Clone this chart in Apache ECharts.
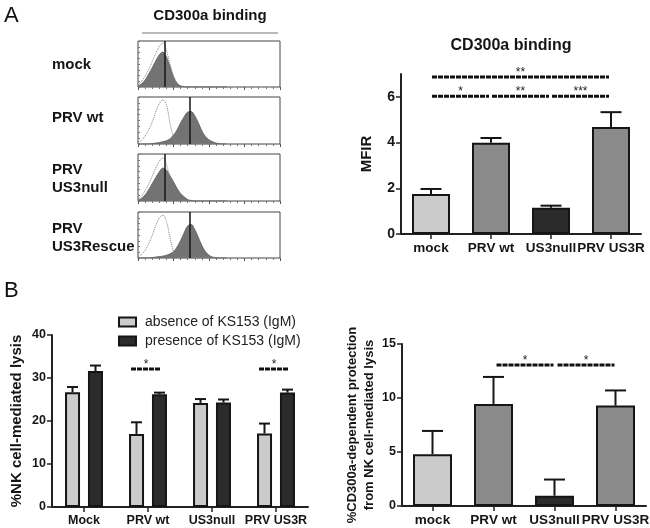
<!DOCTYPE html>
<html><head><meta charset="utf-8">
<script src="https://cdn.jsdelivr.net/npm/echarts@6/dist/echarts.min.js"></script>
<style>html,body{margin:0;padding:0;background:#fff}#c{width:650px;height:528px}</style>
</head><body><div id="c"></div>
<script>
// ---------------- DATA ----------------
// Histogram panels (log10 fluorescence decade position, % of max count)
const histBins = [0,0.1,0.2,0.3,0.4,0.5,0.6,0.7,0.8,0.9,1.0,1.1,1.2,1.3,1.4,1.5,1.6,1.7,1.8,1.9,2.0,2.1,2.2,2.3,2.4,2.5];
const histLabels = [['mock'], ['PRV wt'], ['PRV', 'US3null'], ['PRV', 'US3Rescue']];
const mockFill = [2,7,15,28,42,57,70,76,66,45,22,8,2,1,0,0,0,0,0,0,0,0,0,0,0,0];
const mockIso  = [4,12,24,38,55,73,88,96,80,50,24,9,3,1,0,0,0,0,0,0,0,0,0,0,0,0];
const wtFill   = [0,0,0,0,1,2,3,5,7,11,19,30,45,58,68,69,60,45,28,16,9,5,2,1,0,0];
const wtIso    = [3,8,17,30,47,68,86,94,84,45,15,3,0,0,0,0,0,0,0,0,0,0,0,0,0,0];
const nullFill = [2,6,13,24,37,50,62,70,66,54,41,27,16,9,3,1,0,0,0,0,0,0,0,0,0,0];
const nullIso  = [4,11,22,36,53,70,85,92,78,50,25,10,3,1,0,0,0,0,0,0,0,0,0,0,0,0];
const resFill  = [0,0,0,0,1,2,3,4,6,9,14,24,38,55,70,73,62,45,27,14,6,2,1,0,0,0];
const resIso   = [3,8,17,31,49,70,87,93,80,45,15,3,0,0,0,0,0,0,0,0,0,0,0,0,0,0];
const gateLines = [0.76, 1.46, 0.76, 1.45];

// MFIR bar chart
const mfirCats = ['mock', 'PRV wt', 'US3null', 'PRV US3R'];
const mfir     = [1.75, 3.99, 1.15, 4.68];
const mfirErr  = [1.97, 4.20, 1.24, 5.33];
const mfirTicks = [0, 2, 4, 6];
const mfirSig = [[0, 3, 6.87, 2], [0, 1, 6.03, 1], [1, 2, 6.03, 2], [2, 3, 6.03, 3]];

// NK lysis grouped bars
const lysisCats = ['Mock', 'PRV wt', 'US3null', 'PRV US3R'];
const lysisNames = ['absence of KS153 (IgM)', 'presence of KS153 (IgM)'];
const lysisAbsent     = [26.7, 17.0, 24.2, 17.1];
const lysisAbsentErr  = [27.9, 19.7, 25.1, 19.4];
const lysisPresent    = [31.6, 26.2, 24.3, 26.6];
const lysisPresentErr = [32.9, 26.6, 25.0, 27.3];
const lysisTicks = [0, 10, 20, 30, 40];
const lysisSig = [[1, 1, 32.1, 1], [3, 3, 32.1, 1]];

// CD300a-dependent protection
const protCats = ['mock', 'PRV wt', 'US3null', 'PRV US3R'];
const protection    = [4.8, 9.45, 0.95, 9.3];
const protectionErr = [6.95, 11.95, 2.45, 10.7];
const protTicks = [0, 5, 10, 15];
const protSig = [[1, 2, 13.05, 1], [2, 3, 13.05, 1]];

// ---------------- STYLE ----------------
const FF = 'Liberation Sans, Arial, Helvetica, sans-serif';
const LIGHT = '#cbcbcb', MID = '#8a8a8a', DARK = '#2b2b2b', INK = '#151515';
const groupColors = [LIGHT, MID, DARK, MID];

const histGrids = [
  {left: 138, top: 41, width: 142, height: 46},
  {left: 138, top: 97, width: 142, height: 47},
  {left: 138, top: 154, width: 142, height: 47},
  {left: 138, top: 212, width: 142, height: 46}
];
const histLabelY = [[65], [118], [170, 188], [229, 247]];
const fills = [mockFill, wtFill, nullFill, resFill];
const isos = [mockIso, wtIso, nullIso, resIso];

const grids = histGrids.map(g => Object.assign({show: true, borderColor: '#444', borderWidth: 1, backgroundColor: 'transparent', outerBoundsMode: 'none'}, g));
grids.push({left: 401, top: 74, width: 240, height: 160, outerBoundsMode: 'none'});
grids.push({left: 52, top: 335, width: 256, height: 172, outerBoundsMode: 'none'});
grids.push({left: 402, top: 344, width: 244, height: 162, outerBoundsMode: 'none'});

const xAxes = [], yAxes = [], series = [];
histGrids.forEach((g, i) => {
  xAxes.push({gridIndex: i, type: 'value', min: 0, max: 4, interval: 1,
    axisLine: {show: false}, axisLabel: {show: false}, splitLine: {show: false},
    axisTick: {show: true, length: 3, lineStyle: {color: '#555'}},
    minorTick: {show: true, splitNumber: 5, length: 2, lineStyle: {color: '#777'}}});
  yAxes.push({gridIndex: i, type: 'value', min: 0, max: 100, interval: 12.5,
    axisLine: {show: false}, axisLabel: {show: false}, splitLine: {show: false},
    axisTick: {show: true, inside: true, length: 2, lineStyle: {color: '#777'}}});
  series.push({type: 'line', xAxisIndex: i, yAxisIndex: i, smooth: 0.35, symbol: 'none', silent: true,
    data: histBins.map((b, k) => [b, fills[i][k]]),
    lineStyle: {color: '#5e5e5e', width: 0.8},
    areaStyle: {color: '#737373', opacity: 1},
    markLine: {symbol: 'none', silent: true, label: {show: false},
      lineStyle: {color: INK, width: 1.5, type: 'solid'}, data: [{xAxis: gateLines[i]}]},
    z: 2});
  series.push({type: 'line', xAxisIndex: i, yAxisIndex: i, smooth: 0.35, symbol: 'none', silent: true,
    data: histBins.map((b, k) => [b, isos[i][k]]),
    lineStyle: {color: '#808080', width: 1, type: 'dotted'}, z: 3});
});

function barAxes(gi, cats, ticks, max, xFont, yFont, name, nameGap, nameFont, nameLH) {
  xAxes.push({gridIndex: gi, type: 'category', data: cats,
    axisLine: {show: true, lineStyle: {color: '#222', width: 2}},
    axisTick: {show: true, alignWithLabel: true, length: 5, lineStyle: {color: '#222', width: 1.5}},
    axisLabel: {interval: 0, color: INK, fontWeight: 'bold', fontSize: xFont, fontFamily: FF, margin: 7},
    splitLine: {show: false}});
  yAxes.push({gridIndex: gi, type: 'value', min: 0, max: max,
    axisLine: {show: true, lineStyle: {color: '#222', width: 2}},
    axisTick: {show: true, length: 5, customValues: ticks, lineStyle: {color: '#222', width: 1.5}},
    axisLabel: {customValues: ticks, color: INK, fontWeight: 'bold', fontSize: yFont, fontFamily: FF, margin: 6},
    splitLine: {show: false},
    name: name, nameLocation: 'middle', nameGap: nameGap, nameRotate: 90,
    nameTextStyle: {color: INK, fontWeight: 'bold', fontSize: nameFont, fontFamily: FF, lineHeight: nameLH, align: 'center'}});
}
barAxes(4, mfirCats, mfirTicks, 7, 13.5, 14, 'MFIR', 26, 15, 17);
barAxes(5, lysisCats, lysisTicks, 40, 12.5, 12.5, '%NK cell-mediated lysis', 27, 15, 17);
barAxes(6, protCats, protTicks, 15, 13.5, 12.5, '%CD300a-dependent protection\nfrom NK cell-mediated lysis', 22, 13, 17);

function errSeries(ai, vals, errs, offset, capW) {
  return {type: 'custom', xAxisIndex: ai, yAxisIndex: ai, silent: true, z: 4,
    data: vals.map((v, i) => [i, v, errs[i]]),
    encode: {x: 0, y: [1, 2]},
    renderItem: (params, api) => {
      const top = api.coord([api.value(0), api.value(2)]);
      const bot = api.coord([api.value(0), api.value(1)]);
      const x = top[0] + offset;
      return {type: 'group', children: [
        {type: 'line', shape: {x1: x, y1: bot[1], x2: x, y2: top[1]}, style: {stroke: INK, lineWidth: 2}},
        {type: 'line', shape: {x1: x - capW / 2, y1: top[1], x2: x + capW / 2, y2: top[1]}, style: {stroke: INK, lineWidth: 2}}
      ]};
    }};
}
function sigSeries(ai, rows, sOff, eOff) {
  return {type: 'custom', xAxisIndex: ai, yAxisIndex: ai, silent: true, z: 4,
    data: rows, encode: {x: [0, 1], y: 2},
    renderItem: (params, api) => {
      const p0 = api.coord([api.value(0), api.value(2)]);
      const p1 = api.coord([api.value(1), api.value(2)]);
      const x1 = p0[0] + sOff, x2 = p1[0] + eOff;
      return {type: 'group', children: [
        {type: 'line', shape: {x1: x1, y1: p0[1], x2: x2, y2: p0[1]},
          style: {stroke: '#111', lineWidth: 3, lineDash: [5, 1]}},
        {type: 'text', style: {text: '*'.repeat(api.value(3)), x: (x1 + x2) / 2, y: p0[1] + 2,
          align: 'center', verticalAlign: 'bottom', fontSize: 12, fontFamily: FF, fill: '#222'}}
      ]};
    }};
}

// MFIR
series.push({type: 'bar', xAxisIndex: 4, yAxisIndex: 4, barWidth: 38, z: 2,
  data: mfir.map((v, i) => ({value: v, itemStyle: {color: groupColors[i]}})),
  itemStyle: {borderColor: INK, borderWidth: 2}});
series.push(errSeries(4, mfir, mfirErr, 0, 21));
series.push(sigSeries(4, mfirSig, 1, -2));

// Lysis
series.push({type: 'bar', name: lysisNames[0], xAxisIndex: 5, yAxisIndex: 5, barWidth: 15, barGap: '53%', z: 2,
  data: lysisAbsent, itemStyle: {color: LIGHT, borderColor: INK, borderWidth: 2}});
series.push({type: 'bar', name: lysisNames[1], xAxisIndex: 5, yAxisIndex: 5, barWidth: 15, barGap: '53%', z: 2,
  data: lysisPresent, itemStyle: {color: DARK, borderColor: INK, borderWidth: 2}});
series.push(errSeries(5, lysisAbsent, lysisAbsentErr, -11.5, 11));
series.push(errSeries(5, lysisPresent, lysisPresentErr, 11.5, 11));
series.push(sigSeries(5, lysisSig, -17, 13));

// Protection
series.push({type: 'bar', xAxisIndex: 6, yAxisIndex: 6, barWidth: 39, z: 2,
  data: protection.map((v, i) => ({value: v, itemStyle: {color: groupColors[i]}})),
  itemStyle: {borderColor: INK, borderWidth: 2}});
series.push(errSeries(6, protection, protectionErr, 0, 21));
series.push(sigSeries(6, protSig, 3, -1));

// Texts
const graphics = [
  {type: 'text', left: 4, top: 5, style: {text: 'A', fontSize: 22, fontFamily: FF, fill: '#111'}},
  {type: 'text', left: 4, top: 280, style: {text: 'B', fontSize: 22, fontFamily: FF, fill: '#111'}},
  {type: 'text', x: 210, y: 16, style: {text: 'CD300a binding', align: 'center', verticalAlign: 'middle', fontSize: 15, fontWeight: 'bold', fontFamily: FF, fill: INK}},
  {type: 'line', shape: {x1: 142, y1: 33, x2: 278, y2: 33}, style: {stroke: '#777', lineWidth: 1}},
  {type: 'text', x: 511, y: 46, style: {text: 'CD300a binding', align: 'center', verticalAlign: 'middle', fontSize: 16, fontWeight: 'bold', fontFamily: FF, fill: INK}}
];
histLabels.forEach((lines, i) => lines.forEach((t, j) => {
  graphics.push({type: 'text', x: 52, y: histLabelY[i][j], style: {text: t, verticalAlign: 'middle', fontSize: 15, fontWeight: 'bold', fontFamily: FF, fill: INK}});
}));

const chart = echarts.init(document.getElementById('c'), null, {renderer: 'canvas'});
chart.setOption({
  animation: false,
  backgroundColor: '#fff',
  grid: grids, xAxis: xAxes, yAxis: yAxes, series: series,
  legend: {data: lysisNames, orient: 'vertical', left: 113, top: 310, itemWidth: 17, itemHeight: 9, itemGap: 5,
    icon: 'rect', selectedMode: false,
    textStyle: {fontSize: 14, fontFamily: FF, color: '#222', padding: [0, 0, 0, 4]}},
  graphic: graphics
});
</script></body></html>
